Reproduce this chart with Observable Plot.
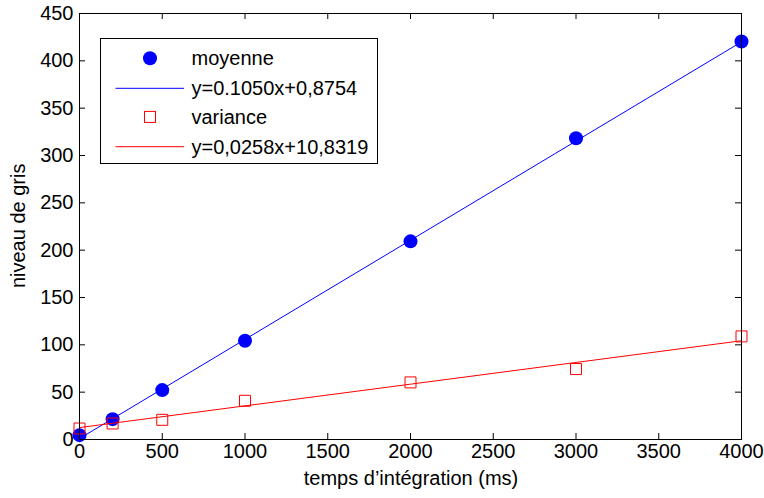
<!DOCTYPE html>
<html><head><meta charset="utf-8">
<script src="https://cdn.jsdelivr.net/npm/d3@7"></script>
<script src="https://cdn.jsdelivr.net/npm/@observablehq/plot@0.6"></script>
<style>body{margin:0;background:#fff;}</style>
</head><body><div id="chart"></div>
<script>
const temps = [0, 200, 500, 1000, 2000, 3000, 4000];
const moyenne = [4.6, 21.5, 52.2, 104.3, 209.3, 318.2, 420.4];
const variance = [11.6, 16.9, 20.8, 40.9, 60.3, 74.4, 108.9];
const fitX = [0, 4000];
const fitMoyenne = [1.0, 420.0];
const fitVariance = [12.6, 104.3];
const xTicks = [0, 500, 1000, 1500, 2000, 2500, 3000, 3500, 4000];
const yTicks = [0, 50, 100, 150, 200, 250, 300, 350, 400, 450];
const legendLabels = ["moyenne", "y=0.1050x+0,8754", "variance", "y=0,0258x+10,8319"];
const xLabel = "temps d’intégration (ms)";
const yLabel = "niveau de gris";

const W = 764, H = 498, mL = 79, mR = 23, mT = 13, mB = 59;
const pw = W - mL - mR, ph = H - mT - mB;
const font = "'Liberation Sans', Arial, Helvetica, sans-serif";
const FS = 20;
const BLUE = "#0000ff", RED = "#ff0000";

const moyData = temps.map((t, i) => ({t, v: moyenne[i]}));
const varData = temps.map((t, i) => ({t, v: variance[i]}));
const fitMoy = fitX.map((t, i) => ({t, v: fitMoyenne[i]}));
const fitVar = fitX.map((t, i) => ({t, v: fitVariance[i]}));

const svg = Plot.plot({
  width: W, height: H,
  marginLeft: mL, marginRight: mR, marginTop: mT, marginBottom: mB,
  style: {fontFamily: font, fontSize: FS + "px", background: "#fff", color: "#000", overflow: "visible"},
  x: {domain: [0, 4000]},
  y: {domain: [0, 450]},
  marks: [
    Plot.axisX(xTicks, {tickSize: 0, tickPadding: 4, fontSize: FS, label: null, tickFormat: d => String(d)}),
    Plot.axisY(yTicks, {tickSize: 0, tickPadding: 6, fontSize: FS, label: null, tickFormat: d => String(d)}),
    Plot.tickX(xTicks, {x: d => d, insetTop: ph - 6, stroke: "#000"}),
    Plot.tickX(xTicks, {x: d => d, insetBottom: ph - 6, stroke: "#000"}),
    Plot.tickY(yTicks, {y: d => d, insetRight: pw - 6, stroke: "#000"}),
    Plot.tickY(yTicks, {y: d => d, insetLeft: pw - 6, stroke: "#000"}),
    Plot.dot(moyData, {x: "t", y: "v", r: 7, fill: BLUE, stroke: null}),
    Plot.line(fitMoy, {x: "t", y: "v", stroke: BLUE, strokeWidth: 1}),
    Plot.dot(varData, {x: "t", y: "v", symbol: "square", r: 6.2, fill: "none", stroke: RED, strokeWidth: 1}),
    Plot.line(fitVar, {x: "t", y: "v", stroke: RED, strokeWidth: 1}),
    Plot.frame({stroke: "#000", strokeWidth: 1})
  ]
});
document.getElementById("chart").appendChild(svg);

const root = d3.select(svg);
// Axis labels
root.append("text").attr("x", 411).attr("y", 485).attr("text-anchor", "middle")
  .attr("font-family", font).attr("font-size", FS).attr("fill", "#000").text(xLabel);
root.append("text").attr("transform", "translate(25,225.8) rotate(-90)").attr("text-anchor", "middle")
  .attr("font-family", font).attr("font-size", FS).attr("fill", "#000").text(yLabel);

// Legend box (MATLAB style, inside axes)
const g = root.append("g").attr("font-family", font).attr("font-size", FS).attr("text-anchor", "start");
g.append("rect").attr("x", 100.5).attr("y", 38.5).attr("width", 277).attr("height", 125)
  .attr("fill", "#fff").attr("stroke", "#000").attr("stroke-width", 1);
const rows = [58.3, 88.3, 116.9, 146.7];
g.append("circle").attr("cx", 150).attr("cy", rows[0]).attr("r", 7).attr("fill", BLUE);
g.append("line").attr("x1", 115.5).attr("x2", 184).attr("y1", rows[1]).attr("y2", rows[1]).attr("stroke", BLUE);
g.append("rect").attr("x", 144.5).attr("y", rows[2] - 5.5).attr("width", 11).attr("height", 11)
  .attr("fill", "none").attr("stroke", RED);
g.append("line").attr("x1", 115.5).attr("x2", 184).attr("y1", rows[3]).attr("y2", rows[3]).attr("stroke", RED);
legendLabels.forEach((s, i) => {
  g.append("text").attr("x", 191.5).attr("y", rows[i] + 6.8).attr("fill", "#000").text(s);
});
</script>
</body></html>
